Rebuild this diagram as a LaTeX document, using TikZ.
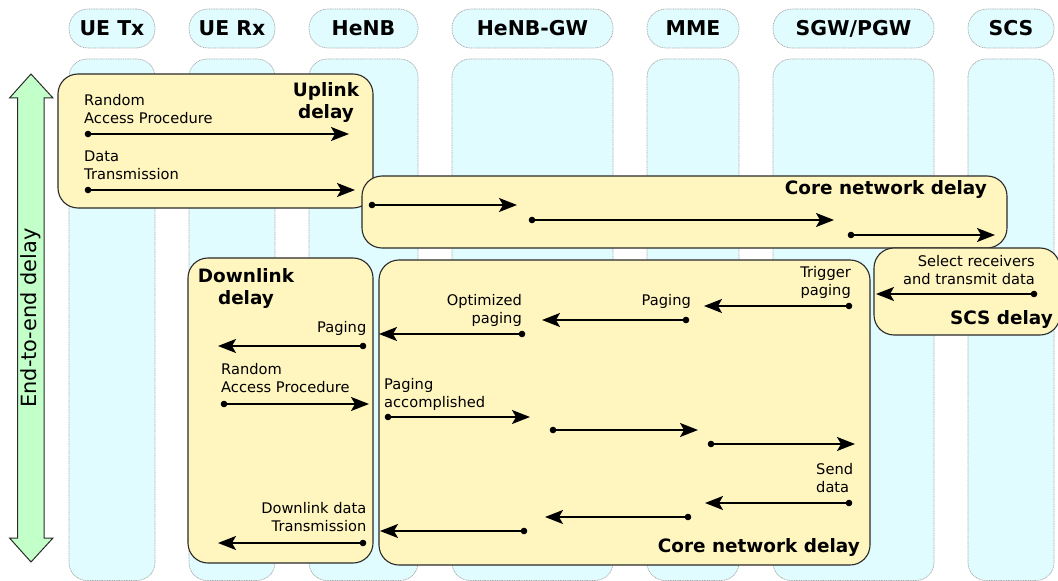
\documentclass[tikz,border=0pt]{standalone}
\usepackage{fontspec}
\setmainfont{DejaVu Sans}
\usetikzlibrary{arrows.meta}
\definecolor{lanec}{HTML}{E1FCFF}
\definecolor{boxc}{HTML}{FFF5BF}
\definecolor{greenc}{HTML}{C3FFC8}
\definecolor{edgec}{HTML}{2A2A2A}
\definecolor{laneedge}{HTML}{A8A8A8}
\newcommand\sendmsg[2]{\fill (#1) circle (3.3bp); \draw[msg] (#1) -- (#2);}
\begin{document}
\begin{tikzpicture}[x=1bp,y=-1bp,
  lane/.style={fill=lanec,draw=laneedge,line width=0.7bp,dash pattern=on 1bp off 0.7bp,rounded corners=18bp},
  pill/.style={fill=lanec,draw=laneedge,line width=0.7bp,dash pattern=on 1bp off 0.7bp,rounded corners=19bp,
     minimum height=39bp,inner sep=0,text height=15bp,text depth=0pt,font=\fontsize{20.5}{24}\selectfont\bfseries},
  ybox/.style={fill=boxc,draw=edgec,line width=1.1bp,rounded corners=20bp,inner sep=0},
  msg/.style={line width=1.5bp,-{Stealth[length=18bp,width=14bp,inset=4bp]}},
  lbl/.style={inner sep=0,text depth=0pt,font=\fontsize{14.7}{18.6}\selectfont},
  dlbl/.style={inner sep=0,text depth=0pt,font=\fontsize{18.5}{22}\selectfont\bfseries}]
\useasboundingbox (0,0) rectangle (1058,581);

% lanes
\draw[lane] (69,59) rectangle (155,580.5);
\draw[lane] (189,59) rectangle (275,580.5);
\draw[lane] (309,59) rectangle (418,580.5);
\draw[lane] (452,59) rectangle (613,580.5);
\draw[lane] (647,59) rectangle (739,580.5);
\draw[lane] (773,59) rectangle (934,580.5);
\draw[lane] (968,59) rectangle (1054,580.5);

% headers
\node[pill,minimum width=86bp] (htx) at (112,28.5) {UE Tx};
\node[pill,minimum width=86bp] (hrx) at (232,28.5) {UE Rx};
\node[pill,minimum width=109bp] (henb) at (363.5,28.5) {HeNB};
\node[pill,minimum width=161bp] (hgw) at (532.5,28.5) {HeNB-GW};
\node[pill,minimum width=92bp] (hmme) at (693,28.5) {MME};
\node[pill,minimum width=161bp] (hsgw) at (853.5,28.5) {SGW/PGW};
\node[pill,minimum width=86bp] (hscs) at (1011,28.5) {SCS};

% end-to-end arrow
\draw[fill=greenc,draw=edgec,line width=1bp,line join=miter]
  (31,74) -- (53,98) -- (44,98) -- (44,538) -- (53,538) -- (31,562) -- (9.5,538) -- (17.5,538)
  -- (17.5,98) -- (9.5,98) -- cycle;
\node[rotate=90,font=\fontsize{21}{25}\selectfont,inner sep=0] (e2e) at (31,318) {End-to-end delay};

% boxes
\node[ybox,minimum width=315bp,minimum height=134bp] (upbox) at (215.5,141) {};
\node[ybox,minimum width=645bp,minimum height=72bp] (cntop) at (684.5,212) {};
\node[ybox,minimum width=185bp,minimum height=305bp] (dlbox) at (280.5,410.5) {};
\node[ybox,minimum width=491bp,minimum height=305bp] (cnbot) at (624.5,412.5) {};
\node[ybox,minimum width=186bp,minimum height=87bp] (scsbox) at (967,291.5) {};

% uplink
\node[dlbl,align=center,anchor=south] (ulab) at (326,119) {Uplink\\delay};
\node[lbl,align=left,anchor=south west] (ura) at (84,124) {Random\\Access Procedure};
\node[lbl,align=left,anchor=south west] (udt) at (84,180) {Data\\Transmission};
\coordinate (a1s) at (88,134); \coordinate (a1e) at (349,134);
\coordinate (a2s) at (88,190); \coordinate (a2e) at (355,190);
\sendmsg{a1s}{a1e}
\sendmsg{a2s}{a2e}

% core top
\node[dlbl,anchor=south east] (cnlab1) at (987,195) {Core network delay};
\coordinate (a3s) at (372,205); \coordinate (a3e) at (517,205);
\coordinate (a4s) at (532,220); \coordinate (a4e) at (834,220);
\coordinate (a5s) at (851,235); \coordinate (a5e) at (995,235);
\sendmsg{a3s}{a3e}
\sendmsg{a4s}{a4e}
\sendmsg{a5s}{a5e}

% SCS
\node[lbl,align=right,anchor=south east] (scstxt) at (1035,285) {Select receivers\\and transmit data};
\node[dlbl,anchor=south east] (scslab) at (1053,325) {SCS delay};
\coordinate (a6s) at (1034,294); \coordinate (a6e) at (876,294);
\sendmsg{a6s}{a6e}

% core bottom
\node[lbl,align=right,anchor=south east] (trig) at (851,296) {Trigger\\paging};
\node[lbl,anchor=south east] (pmme) at (691,306) {Paging};
\node[lbl,align=right,anchor=south east] (opt) at (522,324) {Optimized\\paging};
\node[lbl,align=left,anchor=south west] (pacc) at (384,408) {Paging\\accomplished};
\node[lbl,align=left,anchor=south west] (send) at (816,493) {Send\\data};
\node[dlbl,anchor=south east] (cnlab2) at (860,553) {Core network delay};
\coordinate (a7s) at (849,306); \coordinate (a7e) at (704,306);
\coordinate (a8s) at (686,320); \coordinate (a8e) at (542,320);
\coordinate (a9s) at (522,334); \coordinate (a9e) at (379,334);
\coordinate (a10s) at (388,417); \coordinate (a10e) at (530,417);
\coordinate (a11s) at (553,430); \coordinate (a11e) at (698,430);
\coordinate (a12s) at (711,444); \coordinate (a12e) at (855,444);
\coordinate (a13s) at (849,503); \coordinate (a13e) at (705,503);
\coordinate (a14s) at (688,517); \coordinate (a14e) at (545,517);
\coordinate (a15s) at (524,531); \coordinate (a15e) at (380,531);
\sendmsg{a7s}{a7e}
\sendmsg{a8s}{a8e}
\sendmsg{a9s}{a9e}
\sendmsg{a10s}{a10e}
\sendmsg{a11s}{a11e}
\sendmsg{a12s}{a12e}
\sendmsg{a13s}{a13e}
\sendmsg{a14s}{a14e}
\sendmsg{a15s}{a15e}

% downlink
\node[dlbl,align=center,anchor=south] (dlab) at (246,305) {Downlink\\delay};
\node[lbl,anchor=south east] (pdl) at (366.5,333) {Paging};
\node[lbl,align=left,anchor=south west] (rdl) at (221,393) {Random\\Access Procedure};
\node[lbl,align=right,anchor=south east] (ddl) at (366.5,532) {Downlink data\\Transmission};
\coordinate (a16s) at (363,346); \coordinate (a16e) at (218,346);
\coordinate (a17s) at (224,404); \coordinate (a17e) at (369,404);
\coordinate (a18s) at (363,543); \coordinate (a18e) at (218,543);
\sendmsg{a16s}{a16e}
\sendmsg{a17s}{a17e}
\sendmsg{a18s}{a18e}
\end{tikzpicture}
\end{document}
